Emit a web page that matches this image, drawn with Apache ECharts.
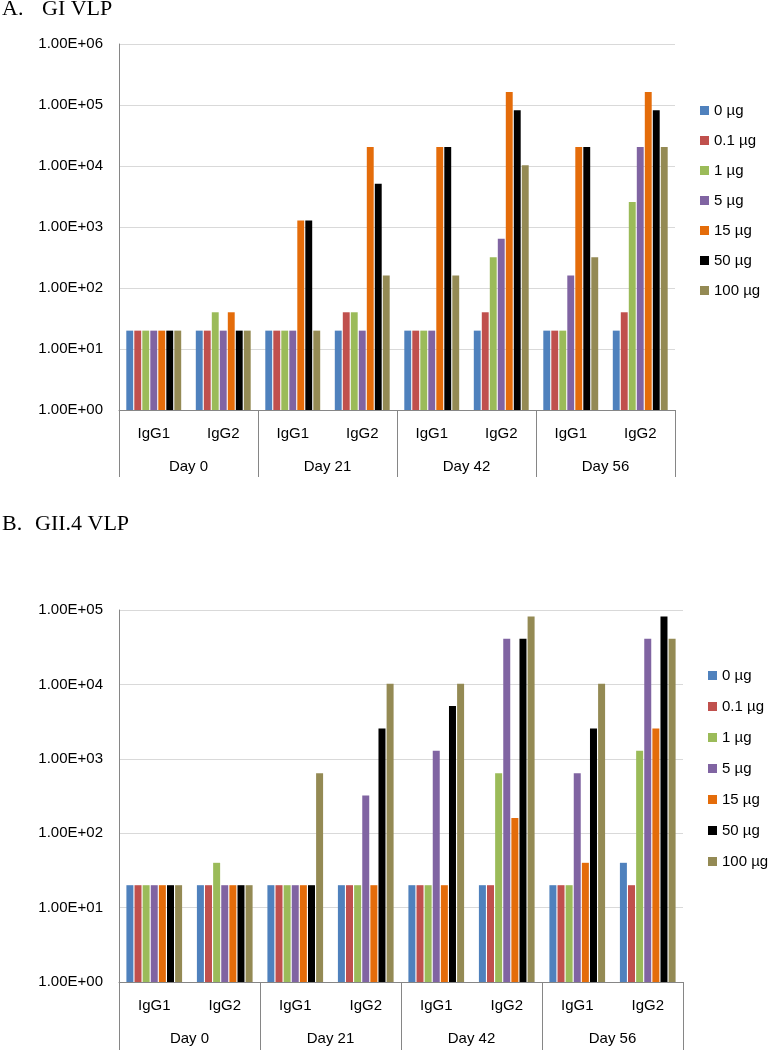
<!DOCTYPE html>
<html>
<head>
<meta charset="utf-8">
<script src="https://cdn.jsdelivr.net/npm/echarts@6/dist/echarts.min.js"></script>
<style>
html,body{margin:0;padding:0;background:#fff;}
#c{width:771px;height:1050px;}
</style>
</head>
<body>
<div id="c"></div>
<script>
// ---- data ----
const categories = ['IgG1','IgG2','IgG1','IgG2','IgG1','IgG2','IgG1','IgG2'];
const days = ['Day 0','Day 21','Day 42','Day 56'];
const doses = ['0 µg','0.1 µg','1 µg','5 µg','15 µg','50 µg','100 µg'];
const doseColors = ['#4F81BD','#C0504D','#9BBB59','#8064A2','#E46C0A','#000000','#948A54'];

// A. GI VLP
const gi_0    = [20,20,20,20,20,20,20,20];
const gi_0_1  = [20,20,20,40,20,40,20,40];
const gi_1    = [20,40,20,40,20,320,20,2560];
const gi_5    = [20,20,20,20,20,640,160,20480];
const gi_15   = [20,40,1280,20480,20480,163840,20480,163840];
const gi_50   = [20,20,1280,5120,20480,81920,20480,81920];
const gi_100  = [20,20,20,160,160,10240,320,20480];

// B. GII.4 VLP
const gii_0   = [20,20,20,20,20,20,20,40];
const gii_0_1 = [20,20,20,20,20,20,20,20];
const gii_1   = [20,40,20,20,20,640,20,1280];
const gii_5   = [20,20,20,320,1280,40960,640,40960];
const gii_15  = [20,20,20,20,20,160,40,2560];
const gii_50  = [20,20,20,2560,5120,40960,2560,81920];
const gii_100 = [20,20,640,10240,10240,81920,10240,40960];

const giSeries = [gi_0, gi_0_1, gi_1, gi_5, gi_15, gi_50, gi_100];
const giiSeries = [gii_0, gii_0_1, gii_1, gii_5, gii_15, gii_50, gii_100];

// ---- chart ----
const FONT = 'Liberation Sans, Arial, sans-serif';
const SERIF = 'Liberation Serif, Times New Roman, serif';
const axisGray = '#868686';
const gridGray = '#D9D9D9';

function expLabel(v){
  const e = Math.round(Math.log10(v));
  return '1.00E+' + (e < 10 ? '0' + e : e);
}

function yAxisFor(gridIndex, max){
  return {
    type: 'log', logBase: 10, gridIndex: gridIndex, min: 1, max: max, interval: 1,
    axisLine: {show: true, lineStyle: {color: axisGray, width: 1}},
    axisTick: {show: false},
    splitLine: {show: true, lineStyle: {color: gridGray, width: 1}},
    axisLabel: {formatter: expLabel, fontFamily: FONT, fontSize: 15, color: '#000', margin: 16}
  };
}

function xAxesFor(gridIndex, dayTickLen){
  return [
    {
      type: 'category', gridIndex: gridIndex, data: categories, position: 'bottom',
      axisLine: {show: true, lineStyle: {color: axisGray, width: 1}},
      axisTick: {show: false},
      axisLabel: {fontFamily: FONT, fontSize: 15, color: '#000', margin: 16, interval: 0}
    },
    {
      type: 'category', gridIndex: gridIndex, data: days, position: 'bottom', offset: 0,
      axisLine: {show: false},
      axisTick: {show: true, length: dayTickLen, interval: 0, lineStyle: {color: axisGray, width: 1}},
      axisLabel: {fontFamily: FONT, fontSize: 15, color: '#000', margin: 49, interval: 0},
      splitLine: {show: false}
    }
  ];
}

const series = [];
doses.forEach((name, i) => {
  series.push({
    name: name, type: 'bar', xAxisIndex: 0, yAxisIndex: 0, data: giSeries[i],
    itemStyle: {color: doseColors[i]}, barGap: '16%', barCategoryGap: '21%'
  });
});
doses.forEach((name, i) => {
  series.push({
    name: name, type: 'bar', xAxisIndex: 2, yAxisIndex: 1, data: giiSeries[i],
    itemStyle: {color: doseColors[i]}, barGap: '16%', barCategoryGap: '21%'
  });
});

const legendBase = {
  orient: 'vertical', icon: 'rect', itemWidth: 9, itemHeight: 9,
  textStyle: {fontFamily: FONT, fontSize: 15, color: '#000', lineHeight: 15},
  data: doses, selectedMode: false, padding: 0
};

const titleStyle = {fontFamily: SERIF, fontSize: 22, fontWeight: 'normal', color: '#000'};

const option = {
  backgroundColor: '#fff',
  animation: false,
  title: [
    {text: 'A.', left: 2, top: -2, padding: 0, textStyle: titleStyle},
    {text: 'GI VLP', left: 42, top: -2, padding: 0, textStyle: titleStyle},
    {text: 'B.', left: 2, top: 513, padding: 0, textStyle: titleStyle},
    {text: 'GII.4 VLP', left: 35, top: 513, padding: 0, textStyle: titleStyle}
  ],
  legend: [
    Object.assign({}, legendBase, {left: 700, top: 103, itemGap: 15}),
    Object.assign({}, legendBase, {left: 708, top: 668, itemGap: 16})
  ],
  grid: [
    {left: 119, top: 44, width: 556, height: 366, containLabel: false},
    {left: 119, top: 610, width: 564, height: 372, containLabel: false}
  ],
  xAxis: xAxesFor(0, 67).concat(xAxesFor(1, 70)),
  yAxis: [yAxisFor(0, 1e6), yAxisFor(1, 1e5)],
  series: series
};

const chart = echarts.init(document.getElementById('c'), null, {renderer: 'canvas'});
chart.setOption(option);
</script>
</body>
</html>
